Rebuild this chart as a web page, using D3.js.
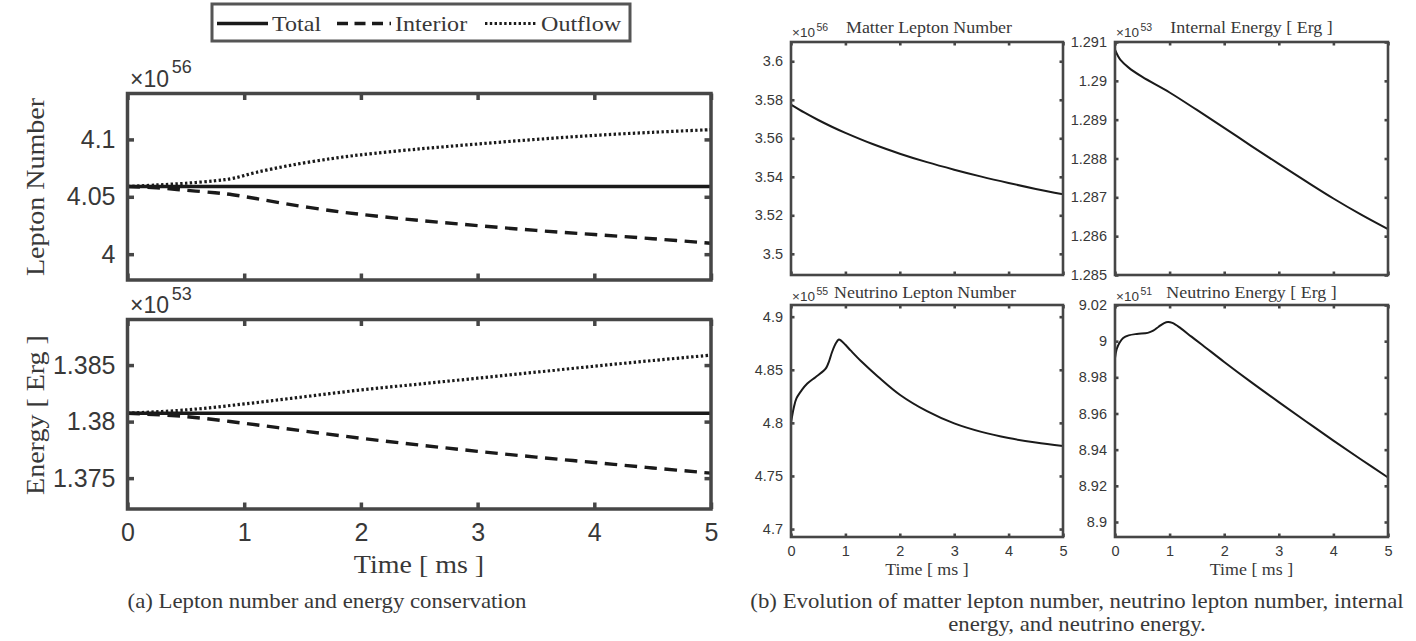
<!DOCTYPE html>
<html>
<head>
<meta charset="utf-8">
<script src="https://cdn.jsdelivr.net/npm/d3@7"></script>
<style>
  body { margin: 0; background: #fff; }
  svg { display: block; }
</style>
</head>
<body>
<div id="chart"></div>
<script>
// values (y values are in units of the x10^n factor)
var timeTicks = [0, 1, 2, 3, 4, 5];
var timeTickLabels = ['0', '1', '2', '3', '4', '5'];
var legendLabels = ['Total', 'Interior', 'Outflow'];

var leptonTime = [0, 0.25, 0.5, 0.75, 0.9, 1.1, 1.4, 1.75, 2, 2.5, 3, 3.5, 4, 4.5, 5];
var leptonTotal = [4.059, 4.059, 4.059, 4.059, 4.059, 4.059, 4.059, 4.059, 4.059, 4.059, 4.059, 4.059, 4.059, 4.059, 4.059];
var leptonInterior = [4.0590, 4.0578, 4.0557, 4.0535, 4.0518, 4.0485, 4.0432, 4.0378, 4.0347, 4.0294, 4.0249, 4.0207, 4.0171, 4.0135, 4.0095];
var leptonOutflow = [4.0590, 4.0603, 4.0618, 4.0640, 4.0660, 4.0712, 4.0775, 4.0833, 4.0866, 4.0917, 4.0960, 4.1000, 4.1035, 4.1062, 4.1085];
var leptonTicks = [4, 4.05, 4.1];
var leptonTickLabels = ['4', '4.05', '4.1'];

var energyTime = [0, 0.5, 1, 1.5, 2, 2.5, 3, 3.5, 4, 4.5, 5];
var energyTotal = [1.38074, 1.38074, 1.38074, 1.38074, 1.38074, 1.38074, 1.38074, 1.38074, 1.38074, 1.38074, 1.38074];
var energyInterior = [1.38074, 1.38044, 1.37985, 1.37918, 1.37853, 1.37793, 1.37737, 1.37686, 1.37638, 1.37590, 1.37544];
var energyOutflow = [1.38074, 1.38103, 1.38156, 1.38218, 1.38280, 1.38332, 1.38384, 1.38437, 1.38490, 1.38540, 1.38588];
var energyTicks = [1.375, 1.38, 1.385];
var energyTickLabels = ['1.375', '1.38', '1.385'];

var matterTime = [0, 0.25, 0.5, 0.75, 1, 1.5, 2, 2.5, 3, 3.5, 4, 4.5, 5];
var matterLepton = [3.5775, 3.5733, 3.5695, 3.5660, 3.5628, 3.5570, 3.5520, 3.5476, 3.5437, 3.5401, 3.5368, 3.5337, 3.5309];
var matterTicks = [3.5, 3.52, 3.54, 3.56, 3.58, 3.6];
var matterTickLabels = ['3.5', '3.52', '3.54', '3.56', '3.58', '3.6'];

var internalTime = [0, 0.05, 0.1, 0.25, 0.5, 1, 1.5, 2, 2.5, 3, 3.5, 4, 4.5, 5];
var internalEnergy = [1.29080, 1.29065, 1.29054, 1.29034, 1.29010, 1.28970, 1.28925, 1.28879, 1.28832, 1.28786, 1.28741, 1.28697, 1.28656, 1.28618];
var internalTicks = [1.285, 1.286, 1.287, 1.288, 1.289, 1.29, 1.291];
var internalTickLabels = ['1.285', '1.286', '1.287', '1.288', '1.289', '1.29', '1.291'];

var nuLeptonTime = [0, 0.05, 0.1, 0.2, 0.3, 0.45, 0.6, 0.65, 0.7, 0.75, 0.8, 0.85, 0.88, 0.92, 1, 1.1, 1.3, 1.6, 2, 2.5, 3, 3.5, 4, 4.5, 5];
var nuLepton = [4.800, 4.814, 4.823, 4.831, 4.837, 4.843, 4.849, 4.852, 4.858, 4.866, 4.8725, 4.877, 4.8785, 4.8775, 4.8735, 4.868, 4.8575, 4.8435, 4.8265, 4.811, 4.7995, 4.7915, 4.7857, 4.7815, 4.7783];
var nuLeptonTicks = [4.7, 4.75, 4.8, 4.85, 4.9];
var nuLeptonTickLabels = ['4.7', '4.75', '4.8', '4.85', '4.9'];

var nuEnergyTime = [0, 0.03, 0.08, 0.15, 0.25, 0.4, 0.6, 0.7, 0.8, 0.9, 0.97, 1.05, 1.2, 1.4, 1.6, 2, 2.5, 3, 3.5, 4, 4.5, 5];
var nuEnergy = [8.9906, 8.9955, 8.9990, 9.0018, 9.0032, 9.0040, 9.0046, 9.0058, 9.0080, 9.0100, 9.0106, 9.0101, 9.0072, 9.0025, 8.9979, 8.9885, 8.9772, 8.9663, 8.9556, 8.9450, 8.9347, 8.9246];
var nuEnergyTicks = [8.9, 8.92, 8.94, 8.96, 8.98, 9, 9.02];
var nuEnergyTickLabels = ['8.9', '8.92', '8.94', '8.96', '8.98', '9', '9.02'];

var SANS = "'Liberation Sans', Arial, Helvetica, sans-serif";
var SERIF = "'Liberation Serif', 'Times New Roman', serif";
var STRETCH = 1.12;   // latex font is wider than Times
var INK = '#383838';
var FRAME = '#464646';
var LINE = '#1a1a1a';

var width = 1416, height = 641;
var svg = d3.select('#chart').append('svg')
  .attr('width', width)
  .attr('height', height);
svg.append('rect').attr('width', width).attr('height', height).attr('fill', '#fff');

function serif(parent, x, y, str, size, anchor, rotate, stretch) {
  return parent.append('text')
    .attr('transform', 'translate(' + x + ',' + y + ')' + (rotate ? ' rotate(-90)' : '') + ' scale(' + (stretch || STRETCH) + ',1)')
    .attr('text-anchor', anchor || 'middle')
    .style('font-family', SERIF)
    .style('font-size', size + 'px')
    .attr('fill', INK)
    .text(str);
}

function exponent(parent, x, y, power, size, supSize, rise) {
  var t = parent.append('text')
    .attr('x', x).attr('y', y)
    .style('font-family', SANS)
    .style('font-size', size + 'px')
    .attr('fill', INK);
  t.append('tspan').text('\u00d710');
  t.append('tspan').attr('dy', -rise).attr('dx', size * 0.12).style('font-size', supSize + 'px').text(power);
}

function panel(cfg) {
  var g = svg.append('g');
  var x = d3.scaleLinear().domain([0, 5]).range([cfg.x0, cfg.x1]);
  var y = d3.scaleLinear().domain(cfg.yDomain).range([cfg.y1, cfg.y0]);

  function styleAxis(sel) {
    sel.select('.domain').remove();
    sel.attr('font-family', null).attr('font-size', null);
    sel.selectAll('.tick line').attr('stroke', FRAME).attr('stroke-width', cfg.frameW);
    sel.selectAll('.tick text')
      .style('font-family', SANS)
      .style('font-size', cfg.tickFont + 'px')
      .attr('fill', INK);
  }

  g.append('g')
    .attr('transform', 'translate(' + cfg.x0 + ',0)')
    .call(d3.axisLeft(y).tickValues(cfg.yTicks)
      .tickFormat(function(d, i) { return cfg.yLabels[i]; })
      .tickSize(-cfg.tick).tickPadding(cfg.yPad))
    .call(styleAxis);
  g.append('g')
    .attr('transform', 'translate(' + cfg.x1 + ',0)')
    .call(d3.axisRight(y).tickValues(cfg.yTicks).tickFormat('').tickSize(-cfg.tick))
    .call(styleAxis);
  g.append('g')
    .attr('transform', 'translate(0,' + cfg.y0 + ')')
    .call(d3.axisTop(x).tickValues(timeTicks).tickFormat('').tickSize(-cfg.tick))
    .call(styleAxis);
  g.append('g')
    .attr('transform', 'translate(0,' + cfg.y1 + ')')
    .call(d3.axisBottom(x).tickValues(timeTicks)
      .tickFormat(function(d, i) { return cfg.xLabels ? timeTickLabels[i] : ''; })
      .tickSize(-cfg.tick).tickPadding(cfg.xPad))
    .call(styleAxis);

  cfg.series.forEach(function(s) {
    var pts = s.t.map(function(t, i) { return [t, s.v[i]]; });
    g.append('path')
      .datum(pts)
      .attr('d', d3.line()
        .x(function(d) { return x(d[0]); })
        .y(function(d) { return y(d[1]); })
        .curve(d3.curveCatmullRom.alpha(0.5)))
      .attr('fill', 'none')
      .attr('stroke', LINE)
      .attr('stroke-width', s.w)
      .attr('stroke-dasharray', s.dash || null);
  });

  g.append('rect')
    .attr('x', cfg.x0).attr('y', cfg.y0)
    .attr('width', cfg.x1 - cfg.x0).attr('height', cfg.y1 - cfg.y0)
    .attr('fill', 'none')
    .attr('stroke', FRAME)
    .attr('stroke-width', cfg.frameW);
  return g;
}

var DASH = '12.5,7.5', DOT = '2.4,2.4';

// ---- (a) left column ----
panel({
  x0: 127.5, x1: 711, y0: 93.5, y1: 280,
  yDomain: [3.9775, 4.14], yTicks: leptonTicks, yLabels: leptonTickLabels,
  tick: 6.5, frameW: 3.5, tickFont: 25, yPad: 12, xPad: 13, xLabels: false,
  series: [
    { t: leptonTime, v: leptonTotal, w: 3.6 },
    { t: leptonTime, v: leptonInterior, w: 3.4, dash: DASH },
    { t: leptonTime, v: leptonOutflow, w: 3.2, dash: DOT }
  ]
});
panel({
  x0: 127.5, x1: 711, y0: 319.5, y1: 509,
  yDomain: [1.37227, 1.38903], yTicks: energyTicks, yLabels: energyTickLabels,
  tick: 6.5, frameW: 3.5, tickFont: 25, yPad: 12, xPad: 14, xLabels: true,
  series: [
    { t: energyTime, v: energyTotal, w: 3.6 },
    { t: energyTime, v: energyInterior, w: 3.4, dash: DASH },
    { t: energyTime, v: energyOutflow, w: 3.2, dash: DOT }
  ]
});
exponent(svg, 130, 87, '56', 23, 18, 14);
exponent(svg, 130, 313, '53', 23, 18, 13);
serif(svg, 44, 187, 'Lepton Number', 25, 'middle', true);
serif(svg, 44, 415, 'Energy [ Erg ]', 25, 'middle', true);
serif(svg, 419, 573, 'Time [ ms ]', 25, 'middle');

// legend
var legend = svg.append('g');
legend.append('rect')
  .attr('x', 212).attr('y', 4).attr('width', 418).attr('height', 37)
  .attr('fill', '#fff').attr('stroke', '#555').attr('stroke-width', 3);
var legendItems = [
  { x0: 217, x1: 268, w: 3.6, dash: null },
  { x0: 337, x1: 391, w: 3.4, dash: '11,6.5' },
  { x0: 485, x1: 537, w: 3.2, dash: DOT }
];
legendLabels.forEach(function(lbl, i) {
  var it = legendItems[i];
  legend.append('line')
    .attr('x1', it.x0).attr('x2', it.x1).attr('y1', 23.5).attr('y2', 23.5)
    .attr('stroke', LINE).attr('stroke-width', it.w).attr('stroke-dasharray', it.dash);
  serif(legend, it.x1 + 4, 30.5, lbl, 21.5, 'start');
});

// ---- (b) right column ----
var small = { tick: 3.5, frameW: 2.6, tickFont: 14.5, yPad: 8, xPad: 9 };
function smallPanel(o) { return panel(Object.assign({}, small, o)); }

smallPanel({
  x0: 791, x1: 1063, y0: 42, y1: 275,
  yDomain: [3.489, 3.61], yTicks: matterTicks, yLabels: matterTickLabels, xLabels: false,
  series: [{ t: matterTime, v: matterLepton, w: 2 }]
});
smallPanel({
  x0: 1115, x1: 1388, y0: 42, y1: 275,
  yDomain: [1.285, 1.291], yTicks: internalTicks, yLabels: internalTickLabels, xLabels: false,
  series: [{ t: internalTime, v: internalEnergy, w: 2 }]
});
smallPanel({
  x0: 791, x1: 1063, y0: 305, y1: 537,
  yDomain: [4.6925, 4.911], yTicks: nuLeptonTicks, yLabels: nuLeptonTickLabels, xLabels: true,
  series: [{ t: nuLeptonTime, v: nuLepton, w: 2 }]
});
smallPanel({
  x0: 1115, x1: 1388, y0: 305, y1: 537,
  yDomain: [8.8917, 9.02], yTicks: nuEnergyTicks, yLabels: nuEnergyTickLabels, xLabels: true,
  series: [{ t: nuEnergyTime, v: nuEnergy, w: 2 }]
});

exponent(svg, 792, 37, '56', 13.5, 10.5, 6);
exponent(svg, 1116, 37, '53', 13.5, 10.5, 6);
exponent(svg, 792, 301, '55', 13.5, 10.5, 6);
exponent(svg, 1116, 301, '51', 13.5, 10.5, 6);
serif(svg, 929, 33, 'Matter Lepton Number', 16, 'middle');
serif(svg, 1251.5, 33, 'Internal Energy [ Erg ]', 16, 'middle');
serif(svg, 925, 298, 'Neutrino Lepton Number', 16, 'middle');
serif(svg, 1251.5, 298, 'Neutrino Energy [ Erg ]', 16, 'middle');
serif(svg, 927, 575, 'Time [ ms ]', 16, 'middle');
serif(svg, 1251.5, 575, 'Time [ ms ]', 16, 'middle');

// captions (body text of the paper, slightly condensed line spacing)
var CAP = 20;
serif(svg, 327, 608, '(a) Lepton number and energy conservation', CAP, 'middle', false, 1.14);
serif(svg, 1077, 608, '(b) Evolution of matter lepton number, neutrino lepton number, internal', CAP, 'middle', false, 1.14);
serif(svg, 1077, 631, 'energy, and neutrino energy.', CAP, 'middle', false, 1.14);
</script>
</body>
</html>
